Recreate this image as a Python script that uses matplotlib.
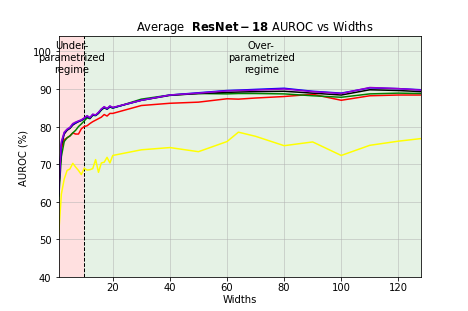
import numpy as np
import matplotlib
matplotlib.use("Agg")
import matplotlib.pyplot as plt

# widths on the x axis
widths = list(range(1, 21)) + [30, 40, 50, 60, 64, 70, 80, 90, 100, 110, 120, 128]

# average AUROC (%) per model variant
auroc_purple = [62.5, 76.0, 78.5, 79.3, 79.8, 80.8, 81.2, 81.5, 81.8, 82.3,
                82.9, 82.4, 83.3, 83.1, 83.8, 84.7, 85.3, 84.8, 85.5, 85.1,
                87.0, 88.4, 88.9, 89.5, 89.6, 89.7, 90.0, 89.3, 88.8, 90.4, 90.1, 89.7]
auroc_blue = [62.0, 75.5, 78.3, 79.2, 79.7, 80.6, 81.0, 81.4, 81.7, 82.2,
              82.8, 82.3, 83.2, 83.0, 83.7, 84.6, 85.2, 84.7, 85.4, 85.0,
              87.0, 88.4, 89.0, 89.6, 89.7, 89.9, 90.2, 89.4, 88.9, 90.3, 90.1, 89.8]
auroc_black = [61.5, 75.0, 78.0, 79.0, 79.5, 80.4, 80.9, 81.3, 81.6, 82.1,
               82.7, 82.2, 83.1, 83.0, 83.6, 84.5, 85.1, 84.7, 85.3, 85.0,
               87.0, 88.3, 88.8, 89.1, 89.2, 89.3, 89.4, 88.9, 88.4, 89.8, 89.6, 89.3]
auroc_green = [60.0, 72.0, 76.0, 77.0, 77.5, 78.3, 79.0, 80.0, 80.7, 81.5,
               82.3, 82.1, 83.0, 82.9, 83.5, 84.4, 85.0, 84.6, 85.2, 84.9,
               87.3, 88.4, 88.8, 88.7, 88.8, 88.8, 88.7, 88.2, 87.8, 88.7, 88.9, 88.8]
auroc_red = [63.0, 74.0, 76.5, 77.0, 77.5, 78.3, 78.0, 78.0, 79.4, 80.0,
             80.2, 80.8, 81.3, 81.7, 82.1, 82.5, 83.2, 82.8, 83.5, 83.5,
             85.6, 86.2, 86.5, 87.4, 87.3, 87.6, 88.0, 88.6, 87.0, 88.2, 88.4, 88.4]
auroc_yellow = [50.6, 62.0, 66.0, 68.3, 68.7, 70.2, 69.2, 68.3, 67.2, 68.9,
                68.4, 68.5, 68.8, 71.2, 67.8, 70.3, 70.5, 71.8, 70.3, 72.3,
                73.8, 74.4, 73.3, 76.0, 78.5, 77.4, 74.9, 75.9, 72.3, 75.0, 76.1, 76.8]

fig, ax = plt.subplots(figsize=(6.5, 4.333), dpi=72)

ax.axvspan(1, 10, color="red", alpha=0.12, lw=0)
ax.axvspan(10, 128, color="green", alpha=0.1, lw=0)
ax.axvline(10, color="black", linestyle="--", lw=1)

ax.plot(widths, auroc_yellow, color="yellow", lw=1.5)
ax.plot(widths, auroc_red, color="red", lw=1.5)
ax.plot(widths, auroc_green, color="green", lw=1.5)
ax.plot(widths, auroc_black, color="black", lw=1.5)
ax.plot(widths, auroc_blue, color="blue", lw=1.5)
ax.plot(widths, auroc_purple, color="darkviolet", lw=1.5)

ax.text(5.5, 98.5, "Under-\nparametrized\nregime", ha="center", va="center", fontsize=10)
ax.text(72, 98.5, "Over-\nparametrized\nregime", ha="center", va="center", fontsize=10)

ax.set_xlim(1, 128)
ax.set_ylim(40, 104)
ax.set_yticks([40, 50, 60, 70, 80, 90, 100])
ax.tick_params(axis="x", pad=2)
ax.grid(True, color="#b0b0b0", alpha=0.6)
ax.set_xlabel("Widths", fontsize=10, labelpad=2)
ax.set_ylabel("AUROC (%)", fontsize=10)
ax.set_title(r"Average  $\bf{ResNet-18}$ AUROC vs Widths", fontsize=11.5, x=0.54)

fig.savefig("out.png", dpi=72)
